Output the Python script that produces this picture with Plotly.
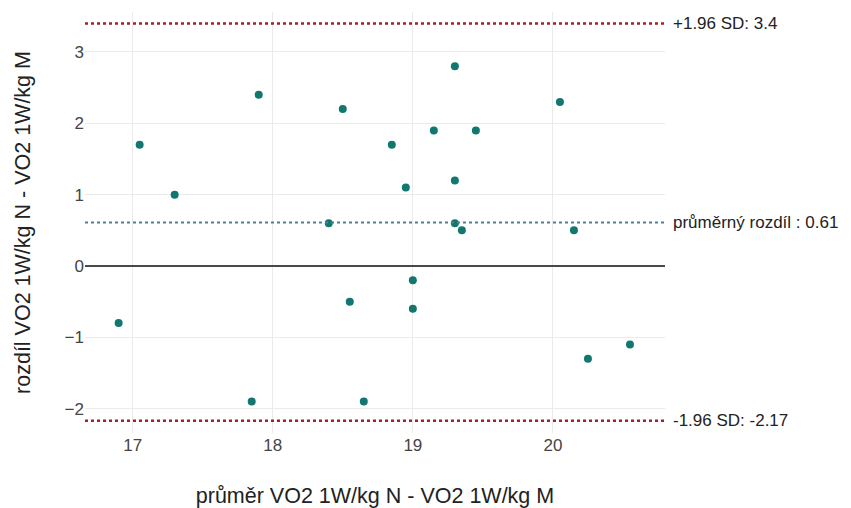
import plotly.graph_objects as go

mean_vals = [17.05, 17.3, 17.9, 16.9, 17.85, 19.3, 18.5, 19.15, 19.45, 18.85, 18.95, 19.3,
             20.05, 18.4, 19.3, 19.35, 20.15, 19.0, 19.0, 18.55, 18.65, 20.25, 20.55]
diff_vals = [1.7, 1.0, 2.4, -0.8, -1.9, 2.8, 2.2, 1.9, 1.9, 1.7, 1.1, 1.2,
             2.3, 0.6, 0.6, 0.5, 0.5, -0.2, -0.6, -0.5, -1.9, -1.3, -1.1]
bias = 0.61
upper = 3.4
lower = -2.17
x_ticks = [17, 18, 19, 20]
y_ticks = [-2, -1, 0, 1, 2, 3]

FONT = "Liberation Sans, Arial, sans-serif"

fig = go.Figure()
fig.add_trace(go.Scatter(x=mean_vals, y=diff_vals, mode="markers",
                         marker=dict(color="#12776f", size=8, line=dict(width=0)),
                         hoverinfo="skip", showlegend=False))

fig.add_shape(type="line", xref="paper", x0=0, x1=1, yref="y", y0=0, y1=0,
              line=dict(color="#111111", width=1.5))
fig.add_shape(type="line", xref="paper", x0=0, x1=1, yref="y", y0=upper, y1=upper,
              line=dict(color="#a3202c", width=2.5, dash="3px,3px"))
fig.add_shape(type="line", xref="paper", x0=0, x1=1, yref="y", y0=lower, y1=lower,
              line=dict(color="#a3202c", width=2.5, dash="3px,3px"))
fig.add_shape(type="line", xref="paper", x0=0, x1=1, yref="y", y0=bias, y1=bias,
              line=dict(color="#4d7f96", width=2, dash="3px,3px"))

labels = [(upper, "+1.96 SD: " + str(upper)),
          (bias, "průměrný rozdíl : " + str(bias)),
          (lower, "-1.96 SD: " + str(lower))]
for yv, txt in labels:
    fig.add_annotation(xref="paper", x=1, yref="y", y=yv, text=txt, showarrow=False,
                       xanchor="left", yanchor="middle", xshift=6,
                       font=dict(family=FONT, size=17, color="#222222"))

fig.update_layout(
    width=851, height=508,
    margin=dict(l=85, r=186, t=12, b=75, autoexpand=False),
    paper_bgcolor="white", plot_bgcolor="white",
    font=dict(family=FONT, color="#222222"),
    xaxis=dict(range=[16.66, 20.8], tickvals=x_ticks, showgrid=True, gridcolor="#ebebeb",
               gridwidth=1, zeroline=False, showline=False, ticks="", automargin=False,
               tickfont=dict(size=17, color="#444444"),
               title=dict(text="průměr VO2 1W/kg N - VO2 1W/kg M",
                          font=dict(size=21.5, color="#222222"), standoff=35)),
    yaxis=dict(range=[-2.34, 3.56], tickvals=y_ticks, showgrid=True, gridcolor="#ebebeb",
               gridwidth=1, zeroline=False, showline=False, ticks="", automargin=False,
               tickfont=dict(size=17, color="#444444"),
               title=dict(text="rozdíl VO2 1W/kg N - VO2 1W/kg M",
                          font=dict(size=21.5, color="#222222"), standoff=28)),
)

fig.write_html("out.html")
